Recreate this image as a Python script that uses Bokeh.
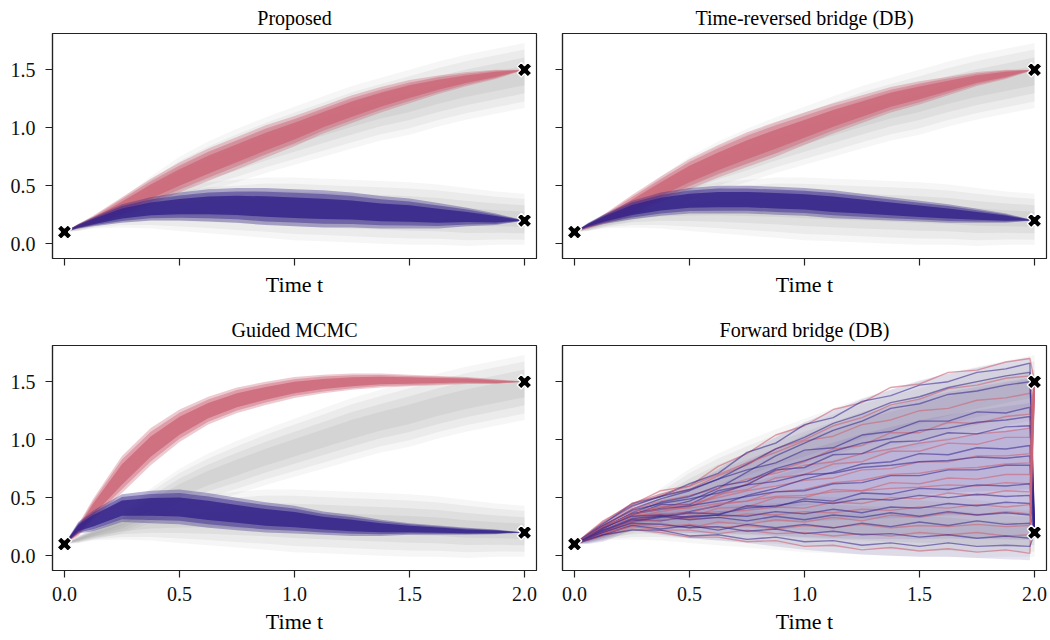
from bokeh.plotting import figure
from bokeh.layouts import column, row
from bokeh.models import Range1d, FixedTicker
from bokeh.embed import file_html
from bokeh.resources import INLINE
import math

# ---------------- text ----------------
TITLES = ["Proposed", "Time-reversed bridge (DB)", "Guided MCMC", "Forward bridge (DB)"]
X_LABEL = "Time t"
X_TICKS = [0.0, 0.5, 1.0, 1.5, 2.0]
X_TICK_LABELS = ["0.0", "0.5", "1.0", "1.5", "2.0"]
Y_TICKS = [0.0, 0.5, 1.0, 1.5]
Y_TICK_LABELS = ["0.0", "0.5", "1.0", "1.5"]

# ---------------- data ----------------
T = [0.0, 0.06, 0.125, 0.25, 0.375, 0.5, 0.625, 0.75, 0.875, 1.0,
     1.125, 1.25, 1.375, 1.5, 1.625, 1.75, 1.875, 2.0]

# grey (unconditioned) bundles, common to all panels: centre and half-spread
GRAY_UP_MEAN = [.10, .14, .19, .29, .43, .56, .67, .76, .85, .93, 1.01, 1.09, 1.16, 1.22, 1.29, 1.35, 1.40, 1.45]
GRAY_UP_HW = [.00, .03, .05, .10, .15, .19, .21, .23, .24, .25, .26, .27, .27, .28, .28, .28, .28, .28]
GRAY_LO_MEAN = [.10, .14, .18, .24, .28, .30, .31, .31, .31, .30, .29, .28, .27, .26, .25, .23, .22, .21]
GRAY_LO_HW = [.00, .03, .05, .10, .15, .19, .22, .24, .26, .27, .27, .27, .27, .27, .26, .25, .23, .22]

# Proposed
P1_RED_MEAN = [.10, .15, .20, .32, .45, .57, .68, .78, .88, .97, 1.07, 1.16, 1.24, 1.31, 1.37, 1.42, 1.46, 1.50]
P1_RED_HW = [.00, .02, .04, .08, .11, .13, .14, .14, .14, .13, .12, .12, .11, .10, .08, .06, .04, .00]
P1_BLUE_MEAN = [.10, .15, .19, .26, .30, .32, .33, .33, .32, .31, .30, .29, .27, .26, .24, .23, .21, .20]
P1_BLUE_HW = [.00, .02, .04, .08, .10, .12, .14, .15, .16, .16, .16, .15, .14, .13, .11, .08, .05, .00]
# Time-reversed bridge (DB)
P2_RED_MEAN = [.10, .15, .21, .33, .47, .60, .71, .81, .90, .99, 1.08, 1.16, 1.24, 1.30, 1.36, 1.42, 1.46, 1.50]
P2_RED_HW = [.00, .02, .04, .09, .11, .13, .14, .15, .15, .14, .13, .12, .11, .10, .08, .06, .04, .00]
P2_BLUE_MEAN = [.10, .16, .21, .29, .34, .37, .38, .38, .37, .36, .34, .32, .30, .28, .26, .24, .22, .20]
P2_BLUE_HW = [.00, .02, .04, .08, .10, .11, .12, .12, .12, .12, .12, .11, .10, .09, .08, .06, .04, .00]
# Guided MCMC
P3_RED_MEAN = [.10, .22, .40, .70, .94, 1.12, 1.25, 1.34, 1.40, 1.45, 1.48, 1.50, 1.51, 1.51, 1.51, 1.51, 1.50, 1.50]
P3_RED_HW = [.00, .05, .09, .16, .16, .14, .12, .11, .10, .09, .08, .07, .06, .05, .04, .03, .02, .00]
P3_BLUE_MEAN = [.10, .24, .30, .41, .42, .42, .39, .36, .33, .31, .28, .26, .24, .23, .22, .21, .205, .20]
P3_BLUE_HW = [.00, .05, .09, .12, .14, .15, .15, .14, .13, .12, .10, .09, .07, .05, .04, .03, .02, .00]

# Forward bridge (DB): envelope of the fan (centre and half-spread) and a sample of paths
T_FAN = [0.0, 0.06, 0.125, 0.25, 0.375, 0.5, 0.625, 0.75, 0.875, 1.0,
         1.125, 1.25, 1.375, 1.5, 1.625, 1.75, 1.875, 1.98]
P4_FAN_MEAN = [.10, .135, .185, .335, .355, .38, .44, .50, .55, .60, .64, .68, .715, .75, .78, .80, .82, .835]
P4_FAN_HW = [.00, .035, .065, .115, .175, .23, .31, .39, .47, .55, .61, .67, .715, .76, .79, .82, .85, .875]
T4 = [0.0, 0.125, 0.25, 0.375, 0.5, 0.625, 0.75, 0.875, 1.0, 1.125,
      1.25, 1.375, 1.5, 1.625, 1.75, 1.875, 1.98, 2.0]
P4_BLUE_PATHS = [
    [.10, .27, .45, .51, .62, .71, .89, .97, 1.13, 1.19, 1.33, 1.38, 1.47, 1.50, 1.58, 1.61, 1.66, .20],
    [.10, .26, .40, .49, .56, .66, .79, .92, 1.02, 1.14, 1.22, 1.32, 1.37, 1.45, 1.50, 1.55, 1.58, .20],
    [.10, .24, .36, .41, .47, .58, .72, .86, .97, 1.08, 1.16, 1.27, 1.31, 1.39, 1.42, 1.47, 1.50, .20],
    [.10, .28, .43, .51, .57, .66, .74, .80, .91, .93, 1.04, 1.07, 1.16, 1.16, 1.24, 1.23, 1.28, .20],
    [.10, .23, .37, .46, .51, .60, .64, .75, .82, .90, .97, 1.01, 1.08, 1.10, 1.15, 1.17, 1.20, .20],
    [.10, .24, .35, .44, .44, .56, .61, .74, .76, .87, .88, .98, .99, 1.06, 1.05, 1.11, 1.12, .20],
    [.10, .22, .30, .34, .38, .43, .52, .58, .66, .72, .79, .81, .88, .87, .93, .92, .95, .20],
    [.10, .26, .39, .45, .49, .54, .61, .64, .70, .71, .76, .78, .81, .82, .85, .84, .86, .20],
    [.10, .25, .36, .40, .43, .47, .51, .55, .56, .62, .63, .69, .69, .74, .74, .78, .78, .20],
    [.10, .21, .31, .30, .34, .35, .43, .42, .49, .47, .54, .53, .58, .57, .61, .60, .62, .20],
    [.10, .20, .29, .33, .37, .36, .41, .43, .47, .45, .49, .48, .52, .50, .53, .51, .52, .20],
    [.10, .24, .34, .35, .33, .35, .34, .38, .36, .40, .37, .42, .41, .45, .43, .46, .45, .20],
    [.10, .22, .32, .34, .31, .33, .30, .34, .31, .35, .33, .37, .34, .38, .35, .37, .35, .20],
    [.10, .18, .26, .23, .26, .22, .27, .24, .27, .24, .28, .25, .29, .26, .30, .27, .28, .20],
    [.10, .20, .28, .27, .24, .25, .21, .23, .19, .21, .18, .19, .16, .18, .15, .17, .15, .20],
    [.10, .18, .22, .22, .17, .18, .14, .16, .12, .13, .09, .11, .08, .11, .08, .09, .08, .20],
]
P4_RED_PATHS = [
    [.10, .30, .44, .56, .60, .77, .88, 1.04, 1.12, 1.26, 1.32, 1.45, 1.48, 1.58, 1.60, 1.67, 1.70, 1.50],
    [.10, .27, .42, .52, .57, .69, .78, .92, 1.00, 1.12, 1.19, 1.30, 1.35, 1.44, 1.47, 1.53, 1.55, 1.50],
    [.10, .29, .45, .53, .60, .70, .80, .89, .99, 1.03, 1.13, 1.17, 1.25, 1.27, 1.34, 1.36, 1.40, 1.50],
    [.10, .23, .33, .38, .42, .52, .62, .73, .81, .92, .95, 1.06, 1.06, 1.15, 1.14, 1.20, 1.22, 1.50],
    [.10, .25, .40, .47, .52, .58, .66, .71, .78, .81, .88, .92, .97, 1.00, 1.05, 1.07, 1.10, 1.50],
    [.10, .25, .35, .42, .42, .53, .57, .67, .70, .79, .81, .90, .90, .97, .96, 1.02, 1.02, 1.50],
    [.10, .26, .38, .42, .45, .50, .56, .60, .65, .67, .74, .75, .81, .81, .86, .86, .88, 1.50],
    [.10, .21, .31, .36, .37, .44, .47, .55, .57, .63, .65, .70, .71, .75, .76, .79, .80, 1.50],
    [.10, .21, .30, .35, .33, .41, .42, .50, .50, .57, .56, .63, .62, .67, .66, .70, .70, 1.50],
    [.10, .24, .36, .40, .41, .45, .47, .51, .52, .55, .56, .58, .59, .61, .60, .63, .62, 1.50],
    [.10, .25, .35, .36, .36, .38, .39, .42, .41, .46, .45, .50, .49, .54, .52, .56, .55, 1.50],
    [.10, .20, .29, .31, .32, .33, .36, .35, .38, .37, .40, .39, .42, .41, .44, .42, .44, 1.50],
    [.10, .19, .26, .28, .24, .29, .27, .31, .29, .33, .30, .35, .33, .37, .35, .38, .36, 1.50],
    [.10, .18, .27, .25, .27, .24, .26, .23, .26, .24, .27, .24, .26, .25, .27, .25, .26, 1.50],
    [.10, .19, .25, .22, .22, .19, .22, .19, .20, .17, .19, .17, .20, .18, .20, .17, .18, 1.50],
    [.10, .17, .23, .20, .16, .16, .12, .13, .08, .09, .05, .07, .04, .06, .03, .05, .02, 1.50],
]

# start / target markers
MARK_T = [0.0, 2.0, 2.0]
MARK_V = [0.1, 1.5, 0.2]

# ---------------- style ----------------
RED = "#CC6677"
BLUE = "#332288"
GRAY = "#8a8a8a"
FAN = "#6252a6"
FONT = "Liberation Serif"
FRAME_W = 484
FRAME_H = 225


def band(p, t, mean, hw, color, layers):
    for f, a in layers:
        lo = [m - f * h for m, h in zip(mean, hw)]
        hi = [m + f * h for m, h in zip(mean, hw)]
        p.varea(x=t, y1=lo, y2=hi, fill_color=color, fill_alpha=a)


def make_fig(title, show_xlab, show_ylab, left, right, top, bottom):
    p = figure(width=left + FRAME_W + right, height=top + FRAME_H + bottom,
               x_range=Range1d(-0.052, 2.052), y_range=Range1d(-0.128, 1.812),
               output_backend="svg", toolbar_location=None,
               min_border_left=left, min_border_right=right,
               min_border_top=top, min_border_bottom=bottom)
    p.title.text = title
    p.title.align = "center"
    p.title.text_font = FONT
    p.title.text_font_size = "20px"
    p.title.text_font_style = "normal"
    p.title.text_color = "black"
    p.title.standoff = 9
    p.xgrid.visible = False
    p.ygrid.visible = False
    p.outline_line_color = "#222222"
    p.outline_line_width = 1.2
    p.outline_line_alpha = 1.0
    p.background_fill_color = "white"
    p.border_fill_color = "white"
    for ax, ticks, labels, show in ((p.xaxis[0], X_TICKS, X_TICK_LABELS, show_xlab),
                                    (p.yaxis[0], Y_TICKS, Y_TICK_LABELS, show_ylab)):
        ax.ticker = FixedTicker(ticks=ticks)
        ax.major_label_overrides = {v: (l if show else "") for v, l in zip(ticks, labels)}
        ax.major_tick_out = 7
        ax.major_tick_in = 0
        ax.minor_tick_out = 0
        ax.minor_tick_in = 0
        ax.axis_line_color = "#222222"
        ax.axis_line_width = 1.2
        ax.major_tick_line_color = "#222222"
        ax.major_tick_line_width = 1.2
        ax.major_label_text_font = FONT
        ax.major_label_text_font_size = "20px"
        ax.major_label_text_color = "#111111"
    p.yaxis.major_label_standoff = 10
    p.xaxis.major_label_standoff = 9
    p.xaxis.axis_label = X_LABEL
    p.xaxis.axis_label_text_font = FONT
    p.xaxis.axis_label_text_font_size = "22px"
    p.xaxis.axis_label_text_font_style = "normal"
    p.xaxis.axis_label_text_color = "black"
    p.xaxis.axis_label_standoff = 6 if not show_xlab else 5
    return p


GRAY_LAYERS = [(1.0, 0.08), (0.8, 0.09), (0.55, 0.12), (0.3, 0.12)]
COL_LAYERS = [(1.0, 0.35), (0.8, 0.45), (0.55, 0.8)]
FAN_LAYERS = [(1.0, 0.16), (0.8, 0.12), (0.55, 0.12), (0.3, 0.10)]


def add_gray(p):
    band(p, T, GRAY_UP_MEAN, GRAY_UP_HW, GRAY, GRAY_LAYERS)
    band(p, T, GRAY_LO_MEAN, GRAY_LO_HW, GRAY, GRAY_LAYERS)


def add_markers(p):
    p.scatter(x=MARK_T, y=MARK_V, marker="plus", angle=math.pi / 4, size=15,
              fill_color="black", line_color="white", line_width=1.3)


panels = []
specs = [
    (TITLES[0], False, True, 52, 13, 33, 54, (P1_RED_MEAN, P1_RED_HW, P1_BLUE_MEAN, P1_BLUE_HW)),
    (TITLES[1], False, False, 13, 2, 33, 54, (P2_RED_MEAN, P2_RED_HW, P2_BLUE_MEAN, P2_BLUE_HW)),
    (TITLES[2], True, True, 52, 13, 33, 68, (P3_RED_MEAN, P3_RED_HW, P3_BLUE_MEAN, P3_BLUE_HW)),
    (TITLES[3], True, False, 13, 2, 33, 68, None),
]
for title, sx, sy, l, r, tp, b, data in specs:
    p = make_fig(title, sx, sy, l, r, tp, b)
    add_gray(p)
    if data is not None:
        rm, rh, bm, bh = data
        band(p, T, rm, rh, RED, COL_LAYERS)
        band(p, T, bm, bh, BLUE, COL_LAYERS)
    else:
        band(p, T_FAN, P4_FAN_MEAN, P4_FAN_HW, FAN, FAN_LAYERS)
        for rp, bp in zip(P4_RED_PATHS, P4_BLUE_PATHS):
            p.line(x=T4, y=rp, line_color=RED, line_alpha=0.6, line_width=1.4)
            p.line(x=T4, y=bp, line_color=BLUE, line_alpha=0.55, line_width=1.4)
    add_markers(p)
    panels.append(p)

layout = column(row(panels[0], panels[1]), row(panels[2], panels[3]))
open("out.html", "w").write(file_html(layout, INLINE))
